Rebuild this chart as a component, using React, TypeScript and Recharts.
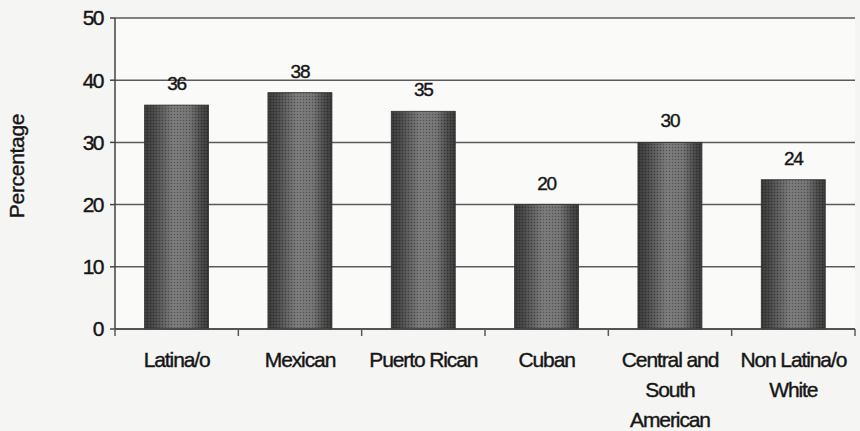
import { BarChart, Bar, XAxis, YAxis, CartesianGrid, LabelList } from 'recharts';

const GROUPS = ['Latina/o', 'Mexican', 'Puerto Rican', 'Cuban', 'Central and South American', 'Non Latina/o White'];
const GROUP_LINES = [['Latina/o'], ['Mexican'], ['Puerto Rican'], ['Cuban'], ['Central and', 'South', 'American'], ['Non Latina/o', 'White']];
const PERCENTAGES = [36, 38, 35, 20, 30, 24];
const Y_TICKS = [0, 10, 20, 30, 40, 50];

const WIDTH = 860;
const HEIGHT = 431;
const MARGIN = { top: 18, right: 5, bottom: 0, left: 0 };
const Y_AXIS_WIDTH = 115;
const X_AXIS_HEIGHT = 102;
const PLOT_WIDTH = WIDTH - MARGIN.left - MARGIN.right - Y_AXIS_WIDTH;
const HALF_BAND = PLOT_WIDTH / GROUPS.length / 2;

const FONT = '"Liberation Sans", Arial, sans-serif';
const INK = '#161616';
const RULE = '#5a5a5a';

const data = GROUPS.map((group, i) => ({ group, value: PERCENTAGES[i] }));

if (typeof document !== 'undefined') document.body.style.margin = '0';

// category label, with tick marks on the band boundaries instead of the centre
function GroupTick(props: any) {
  const { x, y, index, payload } = props;
  const lines: string[] = GROUP_LINES[index] ?? [String(payload.value)];
  const axisY = y - 7;
  const last = index === GROUPS.length - 1;
  return (
    <g>
      <line x1={x - HALF_BAND} y1={axisY} x2={x - HALF_BAND} y2={axisY + 7} stroke={RULE} strokeWidth={1.5} />
      {last && <line x1={x + HALF_BAND} y1={axisY} x2={x + HALF_BAND} y2={axisY + 7} stroke={RULE} strokeWidth={1.5} />}
      <text
        x={x}
        y={y}
        textAnchor="middle"
        fontFamily={FONT}
        fontSize={21}
        fill={INK}
        stroke={INK}
        strokeWidth={0.4}
        letterSpacing={-1.1}
      >
        {lines.map((line, i) => (
          <tspan key={i} x={x} dy={i === 0 ? 31 : 30}>
            {line}
          </tspan>
        ))}
      </text>
    </g>
  );
}

function ShadedBar(props: any) {
  const { x, y, width, height } = props;
  if (!height || height <= 0) return null;
  return (
    <g>
      <rect x={x} y={y} width={width} height={height} fill="url(#barShade)" />
      <rect x={x} y={y} width={width} height={height} fill="url(#barGrain)" />
      <rect x={x} y={y} width={width} height={height} fill="none" stroke="#333" strokeWidth={0.8} />
    </g>
  );
}

export default function App() {
  return (
    <div style={{ width: WIDTH, height: HEIGHT, background: '#f5f5f3' }}>
      <BarChart width={WIDTH} height={HEIGHT} data={data} margin={MARGIN} barCategoryGap="24%">
        <defs>
          <linearGradient id="barShade" x1="0" y1="0" x2="1" y2="0">
            <stop offset="0%" stopColor="#363636" />
            <stop offset="14%" stopColor="#454545" />
            <stop offset="45%" stopColor="#787878" />
            <stop offset="70%" stopColor="#727272" />
            <stop offset="88%" stopColor="#474747" />
            <stop offset="100%" stopColor="#363636" />
          </linearGradient>
          <pattern id="barGrain" width="3" height="3" patternUnits="userSpaceOnUse">
            <rect x="0" y="0" width="1" height="1" fill="#000" fillOpacity={0.3} />
            <rect x="1.5" y="1.5" width="1" height="1" fill="#fff" fillOpacity={0.15} />
          </pattern>
        </defs>
        <CartesianGrid vertical={false} stroke={RULE} strokeWidth={1.5} fill="#fafaf9" />
        <XAxis
          dataKey="group"
          height={X_AXIS_HEIGHT}
          interval={0}
          tickLine={false}
          tickSize={7}
          tickMargin={0}
          axisLine={{ stroke: '#444', strokeWidth: 1.5 }}
          tick={<GroupTick />}
        />
        <YAxis
          domain={[0, 50]}
          ticks={Y_TICKS}
          width={Y_AXIS_WIDTH}
          tickSize={5}
          tickMargin={7}
          tickLine={{ stroke: '#444', strokeWidth: 1.5 }}
          axisLine={{ stroke: '#444', strokeWidth: 1.5 }}
          tick={{ fontFamily: FONT, fontSize: 21, fill: INK, stroke: INK, strokeWidth: 0.4, letterSpacing: -1.5 }}
          label={{
            content: () => (
              <text
                x={24}
                y={166}
                transform="rotate(-90 24 166)"
                textAnchor="middle"
                fontFamily={FONT}
                fontSize={21}
                fill={INK}
                stroke={INK}
                strokeWidth={0.4}
                letterSpacing={-0.3}
              >
                Percentage
              </text>
            ),
          }}
        />
        <YAxis
          yAxisId="frame"
          orientation="right"
          width={0}
          tick={false}
          tickLine={false}
          axisLine={{ stroke: RULE, strokeWidth: 1.5 }}
        />
        <Bar dataKey="value" shape={<ShadedBar />} isAnimationActive={false}>
          <LabelList
            dataKey="value"
            position="top"
            offset={15}
            fontFamily={FONT}
            fontSize={19}
            fill={INK}
            stroke={INK}
            strokeWidth={0.4}
            letterSpacing={-1.2}
          />
        </Bar>
      </BarChart>
    </div>
  );
}
